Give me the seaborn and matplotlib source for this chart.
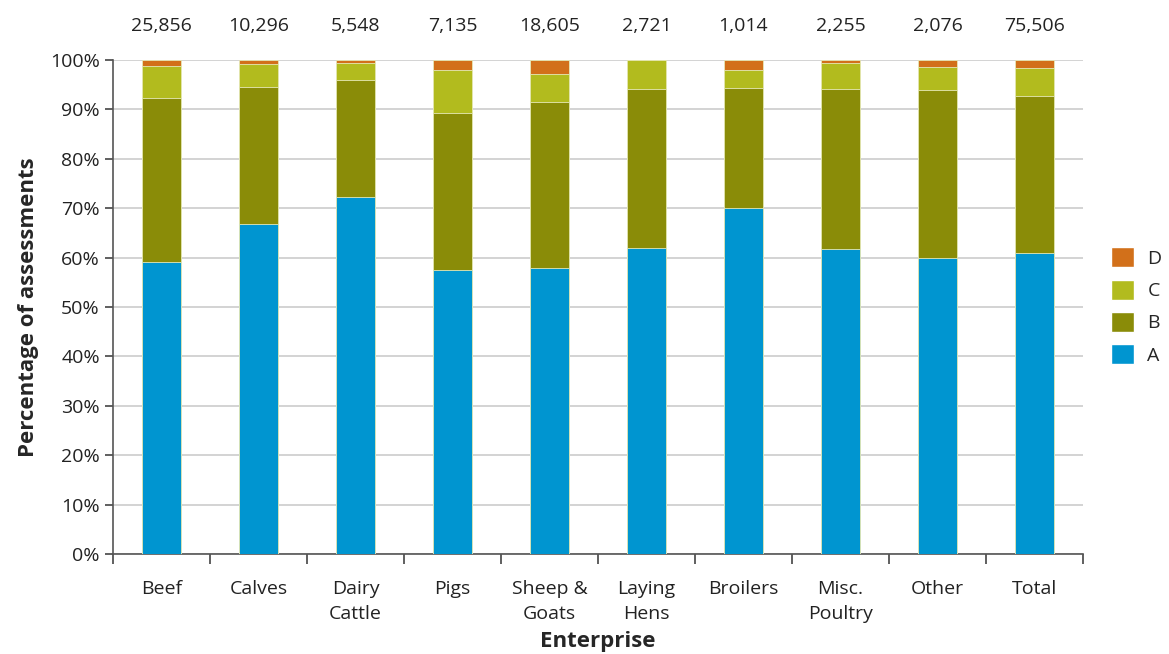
import numpy as np
import pandas as pd
import matplotlib
matplotlib.use('Agg')
import matplotlib.pyplot as plt
import seaborn as sns
from matplotlib.patches import Patch

categories = ['Beef', 'Calves', 'Dairy\nCattle', 'Pigs', 'Sheep &\nGoats', 'Laying\nHens',
              'Broilers', 'Misc.\nPoultry', 'Other', 'Total']
totals = ['25,856', '10,296', '5,548', '7,135', '18,605', '2,721', '1,014', '2,255', '2,076', '75,506']
grade_a = [59.1, 66.8, 72.3, 57.5, 57.9, 61.9, 70.0, 61.7, 59.9, 60.9]
grade_b = [33.3, 27.8, 23.7, 31.7, 33.5, 32.3, 24.4, 32.4, 34.1, 31.9]
grade_c = [6.4, 4.5, 3.4, 8.8, 5.8, 5.8, 3.6, 5.3, 4.6, 5.6]
grade_d = [1.2, 0.9, 0.6, 2.0, 2.8, 0.0, 2.0, 0.6, 1.4, 1.6]

colors = {'A': '#0095d0', 'B': '#8a8c08', 'C': '#b2bb1e', 'D': '#d2701a'}

sns.set_style('white')
plt.rcParams['font.family'] = ['Open Sans', 'DejaVu Sans']

df = pd.DataFrame({'cat': categories, 'A': grade_a, 'B': grade_b, 'C': grade_c, 'D': grade_d})
df['cA'] = df['A']
df['cB'] = df['cA'] + df['B']
df['cC'] = df['cB'] + df['C']
df['cD'] = df['cC'] + df['D']

fig = plt.figure(figsize=(11.69, 6.54), dpi=100)
ax = fig.add_axes([113 / 1169, 100 / 654, 970 / 1169, 494 / 654])

for g in ['D', 'C', 'B', 'A']:
    sns.barplot(data=df, x='cat', y='c' + g, color=colors[g], width=0.4,
                saturation=1, ax=ax, zorder=3, edgecolor='#e6e9b8', linewidth=0.6)

ax.set_ylim(0, 100)
ax.set_xlim(-0.5, len(categories) - 0.5)
ax.set_yticks(np.arange(0, 101, 10))
ax.set_yticklabels([f'{v}%' for v in range(0, 101, 10)], fontsize=14, color='#222222')
ax.yaxis.grid(True, color='#cccccc', linewidth=1.2, zorder=0)
ax.set_axisbelow(True)

ax.set_xticks(range(len(categories)))
ax.set_xticklabels(categories, fontsize=14, color='#222222', linespacing=1.45, va='top')
ax.set_xticks(np.arange(-0.5, len(categories), 1), minor=True)
ax.tick_params(axis='x', which='major', length=0, pad=19, bottom=False)
ax.tick_params(axis='x', which='minor', length=7, width=1.2, color='#444444',
               direction='out', bottom=True)
ax.tick_params(axis='y', length=6, width=1.2, color='#444444', direction='out', left=True)

for side in ['top', 'right']:
    ax.spines[side].set_visible(False)
for side in ['left', 'bottom']:
    ax.spines[side].set_color('#555555')
    ax.spines[side].set_linewidth(1.2)

for i, t in enumerate(totals):
    ax.text(i, 106.8, t, ha='center', va='center', fontsize=14, color='#222222')

ax.set_xlabel('Enterprise', fontsize=16, fontweight='bold', labelpad=6)
ax.set_ylabel('Percentage of assessments', fontsize=16, fontweight='bold', labelpad=8)

handles = [Patch(facecolor=colors[g], label=g) for g in ['D', 'C', 'B', 'A']]
fig.legend(handles=handles, loc='center left', bbox_to_anchor=(1093 / 1169, 1 - 306 / 654),
           frameon=False, fontsize=14, handlelength=1.2, handleheight=1.2,
           handletextpad=0.7, labelspacing=0.6)

fig.savefig('out.png', dpi=100)
